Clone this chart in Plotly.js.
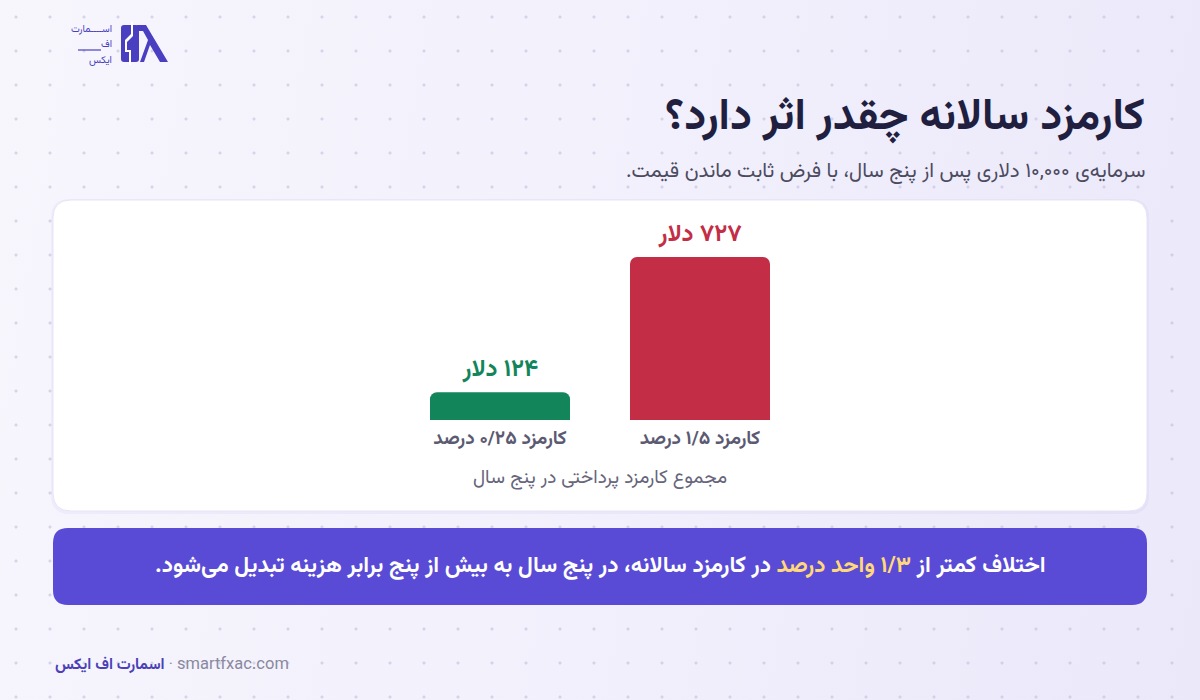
<!DOCTYPE html>
<html lang="fa">
<head>
<meta charset="utf-8">
<script src="https://cdn.plot.ly/plotly-3.0.1.min.js"></script>
<style>
  html, body { margin: 0; padding: 0; width: 1200px; height: 700px; overflow: hidden; }
  body {
    background-color: #f4f3fc;
    background-image:
      radial-gradient(circle, rgba(190,186,215,0.55) 1.3px, transparent 1.8px),
      linear-gradient(100deg, #f7f6fd 0%, #f2f1fc 45%, #ebe8fa 100%);
    background-size: 34px 34px, 100% 100%;
    background-position: -1px 0px, 0 0;
  }
  #chart { width: 1200px; height: 700px; }
</style>
</head>
<body>
<div id="chart"></div>
<script>
// ---- data ----
const categories = ['کارمزد ۰/۲۵ درصد', 'کارمزد ۱/۵ درصد'];
const totalFees = [124, 727];
const barColors = ['#13855a', '#c42d46'];
const valueUnit = 'دلار';
const chartTitle = 'کارمزد سالانه چقدر اثر دارد؟';
const chartSubtitle = 'سرمایه\u200Cی ۱۰,۰۰۰ دلاری پس از پنج سال، با فرض ثابت ماندن قیمت.';
const axisTitle = 'مجموع کارمزد پرداختی در پنج سال';
const bannerBefore = 'اختلاف کمتر از ';
const bannerHighlight = '۱/۳ واحد درصد';
const bannerAfter = ' در کارمزد سالانه، در پنج سال به بیش از پنج برابر هزینه تبدیل می\u200Cشود.';
const brandName = 'اسمارت اف ایکس';
const brandSite = 'smartfxac.com';
const logoLines = ['اســــمارت', 'اف', 'ایکس'];

// ---- helpers ----
const W = 1200, H = 700;
const px = x => x / W;
const py = y => 1 - y / H;
const faDigits = n => String(n).replace(/[0-9]/g, d => '۰۱۲۳۴۵۶۷۸۹'[d]);
const RLM = '\u200F';
function rr(x0, y0, x1, y1, r) {
  const P = (x, y) => px(x) + ',' + py(y);
  return 'M' + P(x0 + r, y0) + ' L' + P(x1 - r, y0) + ' Q' + P(x1, y0) + ' ' + P(x1, y0 + r) +
    ' L' + P(x1, y1 - r) + ' Q' + P(x1, y1) + ' ' + P(x1 - r, y1) +
    ' L' + P(x0 + r, y1) + ' Q' + P(x0, y1) + ' ' + P(x0, y1 - r) +
    ' L' + P(x0, y0 + r) + ' Q' + P(x0, y0) + ' ' + P(x0 + r, y0) + ' Z';
}
function poly(pts) {
  return 'M' + pts.map(p => px(p[0]) + ',' + py(p[1])).join(' L') + ' Z';
}

const FONT = 'Vazirmatn, "Noto Sans Arabic", "DejaVu Sans", sans-serif';

const trace = {
  type: 'bar',
  x: categories,
  y: totalFees,
  marker: { color: barColors, cornerradius: 7 },
  text: totalFees.map(v => RLM + faDigits(v) + ' ' + valueUnit + RLM),
  textposition: 'outside',
  textfont: { family: FONT, size: 24, weight: 'bold', color: barColors },
  constraintext: 'none',
  cliponaxis: false,
  hoverinfo: 'skip'
};

const shapes = [
  // card shadow
  { type: 'path', xref: 'paper', yref: 'paper', layer: 'below', path: rr(51, 199, 1149, 514, 19),
    fillcolor: 'rgba(120,110,200,0.06)', line: { width: 0 } },
  // card
  { type: 'path', xref: 'paper', yref: 'paper', layer: 'below', path: rr(53, 200, 1147, 511, 18),
    fillcolor: '#ffffff', line: { color: '#e7e4f6', width: 1 } },
  // banner
  { type: 'path', xref: 'paper', yref: 'paper', layer: 'below', path: rr(53, 528, 1147, 605, 15),
    fillcolor: '#594bd6', line: { width: 0 } },
  // logo icon: left block
  { type: 'path', xref: 'paper', yref: 'paper', layer: 'below', path: rr(121, 25, 139, 62, 3),
    fillcolor: '#4a3fc0', line: { width: 0 } },
  // logo icon: white zigzag
  { type: 'path', xref: 'paper', yref: 'paper', layer: 'below',
    path: poly([[131, 22], [133, 22], [133, 36], [127, 42], [127, 50], [131, 50], [131, 65], [129, 65], [129, 52], [125, 52], [125, 40], [131, 34]]),
    fillcolor: '#ffffff', line: { width: 0 } },
  // logo icon: lambda
  { type: 'path', xref: 'paper', yref: 'paper', layer: 'below',
    path: poly([[137, 25], [146, 25], [168, 62], [160, 62], [150, 45], [144, 62], [140, 62], [148, 40], [143, 31], [137, 31]]),
    fillcolor: '#4a3fc0', line: { width: 0 } },
  // logo kashida line (row 2)
  { type: 'line', xref: 'paper', yref: 'paper', x0: px(78), x1: px(101), y0: py(50), y1: py(50), line: { color: '#4a3fc0', width: 1.2 } }
];

const annotations = [
  { text: chartTitle, xref: 'paper', yref: 'paper', x: px(1147), y: py(118), xanchor: 'right', yanchor: 'middle',
    showarrow: false, font: { family: FONT, size: 44, weight: 'bold', color: '#211f40' } },
  { text: RLM + chartSubtitle + RLM, xref: 'paper', yref: 'paper', x: px(1147), y: py(172), xanchor: 'right', yanchor: 'middle',
    showarrow: false, font: { family: FONT, size: 20.5, color: '#4b4a5e' } },
  { text: RLM + bannerBefore + '<span style="color:#ffd87a">' + bannerHighlight + '</span>' + bannerAfter + RLM,
    xref: 'paper', yref: 'paper', x: 0.5, y: py(566), xanchor: 'center', yanchor: 'middle',
    showarrow: false, font: { family: FONT, size: 22.5, weight: 'bold', color: '#ffffff' } },
  { text: '<span style="color:#4b40b8;font-weight:bold">' + brandName + '</span> · ' + '<span style="font-size:16.5px">' + brandSite + '</span>',
    xref: 'paper', yref: 'paper', x: px(53), y: py(665), xanchor: 'left', yanchor: 'middle',
    showarrow: false, font: { family: FONT, size: 15.5, color: '#8a88a0' } },
  { text: logoLines[0], xref: 'paper', yref: 'paper', x: px(114), y: py(30), xanchor: 'right', yanchor: 'middle',
    showarrow: false, font: { family: FONT, size: 10, color: '#4a3fc0' } },
  { text: logoLines[1], xref: 'paper', yref: 'paper', x: px(114), y: py(45), xanchor: 'right', yanchor: 'middle',
    showarrow: false, font: { family: FONT, size: 10, color: '#4a3fc0' } },
  { text: logoLines[2], xref: 'paper', yref: 'paper', x: px(114), y: py(60), xanchor: 'right', yanchor: 'middle',
    showarrow: false, font: { family: FONT, size: 10, color: '#4a3fc0' } }
];

const layout = {
  width: W, height: H,
  margin: { l: 0, r: 0, t: 0, b: 0, pad: 0 },
  paper_bgcolor: 'rgba(0,0,0,0)',
  plot_bgcolor: 'rgba(0,0,0,0)',
  showlegend: false,
  bargap: 0.3,
  font: { family: FONT },
  xaxis: {
    domain: [px(400), px(800)],
    showgrid: false, zeroline: false, showline: false, ticks: '',
    tickfont: { family: FONT, size: 19, weight: 'bold', color: '#5b5a72' },
    ticklabelstandoff: 4,
    title: { text: axisTitle, font: { family: FONT, size: 19, color: '#66657a' }, standoff: 16 },
    fixedrange: true
  },
  yaxis: {
    domain: [py(420), py(210)],
    range: [0, 937],
    visible: false,
    fixedrange: true
  },
  shapes: shapes,
  annotations: annotations
};

Plotly.newPlot('chart', [trace], layout, { displayModeBar: false, staticPlot: true });
</script>
</body>
</html>
